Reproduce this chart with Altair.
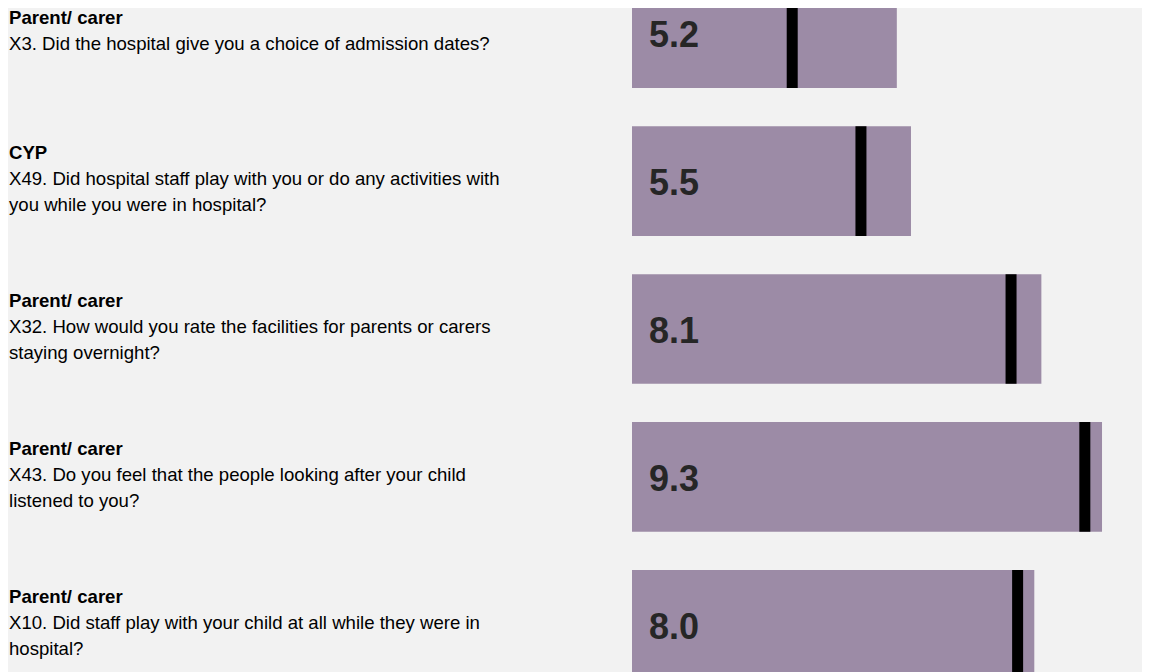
import altair as alt
import pandas as pd

# ---- data ----
groups = ["Parent/ carer", "CYP", "Parent/ carer", "Parent/ carer", "Parent/ carer"]
questions = [
    ["X3. Did the hospital give you a choice of admission dates?"],
    ["X49. Did hospital staff play with you or do any activities with",
     "you while you were in hospital?"],
    ["X32. How would you rate the facilities for parents or carers",
     "staying overnight?"],
    ["X43. Do you feel that the people looking after your child",
     "listened to you?"],
    ["X10. Did staff play with your child at all while they were in",
     "hospital?"],
]
scores = [5.24, 5.52, 8.10, 9.30, 7.96]
comparison = [3.17, 4.53, 7.50, 8.96, 7.63]

# ---- build table ----
rows = []
for i, (g, q, s, c) in enumerate(zip(groups, questions, scores, comparison)):
    n = len(q)
    rows.append({
        "row": i,
        "nlines": n + 1,
        "header": "\n".join([g] + [""] * n),
        "question": "\n".join([""] + q),
        "score": s,
        "comp": c,
    })
df = pd.DataFrame(rows)

W, H = 1134, 664
STEP = 147.9
FIRST = 25.2
HALF = 54.8 / STEP
LH = 26

xscale = alt.Scale(domain=[-624 / 50.54, (W - 624) / 50.54], nice=False, zero=False)
yscale = alt.Scale(domain=[-FIRST / STEP, (H - FIRST) / STEP], nice=False, zero=False, reverse=True)

base = alt.Chart(df).transform_calculate(
    lo=f"datum.row - {HALF}",
    hi=f"datum.row + {HALF}",
    zero="0",
    ty=f"datum.row - (datum.nlines - 1) * {LH / 2} / {STEP}",
)

bars = base.mark_rect(color="#9c8ba6", clip=True).encode(
    x=alt.X("zero:Q", scale=xscale, axis=None),
    x2="score:Q",
    y=alt.Y("lo:Q", scale=yscale, axis=None),
    y2="hi:Q",
)

rules = base.mark_rule(color="#000000", strokeWidth=11, strokeCap="butt", clip=True).encode(
    x=alt.X("comp:Q", scale=xscale, axis=None),
    y=alt.Y("lo:Q", scale=yscale, axis=None),
    y2="hi:Q",
)

values = base.mark_text(
    font="Liberation Sans", fontWeight="bold", fontSize=36, color="#262626",
    align="left", baseline="middle", dy=3,
).encode(
    x=alt.value(641),
    y=alt.Y("row:Q", scale=yscale, axis=None),
    text=alt.Text("score:Q", format=".1f"),
)

headers = base.mark_text(
    font="Liberation Sans", fontWeight="bold", fontSize=18.6, color="#000000",
    align="left", baseline="middle", lineBreak="\n", lineHeight=LH, dy=-2,
).encode(
    x=alt.value(1),
    y=alt.Y("ty:Q", scale=yscale, axis=None),
    text="header:N",
)

qtexts = base.mark_text(
    font="Liberation Sans", fontSize=18.6, color="#000000",
    align="left", baseline="middle", lineBreak="\n", lineHeight=LH, dy=-2,
).encode(
    x=alt.value(1),
    y=alt.Y("ty:Q", scale=yscale, axis=None),
    text="question:N",
)

chart = alt.layer(bars, rules, values, headers, qtexts).properties(
    width=W, height=H, padding=0, autosize=alt.AutoSizeParams(type="none"),
    background="#f2f2f2",
).configure_view(stroke=None)

chart.save("out.html", embed_options={"renderer": "svg", "actions": False})
